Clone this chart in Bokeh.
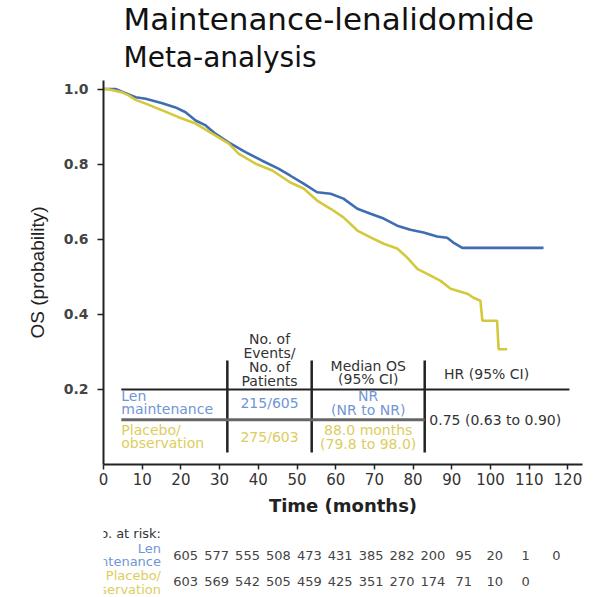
from bokeh.plotting import figure
from bokeh.models import Range1d, FixedTicker, PrintfTickFormatter, Title
from bokeh.layouts import column
from bokeh.embed import file_html
from bokeh.resources import INLINE
from bokeh.core.properties import value

# ---------------- data ----------------
len_t = [0, 1.0, 3.1, 5.7, 8.3, 10.9, 15.2, 18.6, 21.2, 23.8, 26.4, 28.9, 32.3, 36.7, 41.0, 45.2,
         48.3, 51.7, 55.2, 58.7, 62.0, 65.6, 69.0, 72.4, 75.9, 79.3, 82.7, 86.2, 88.8, 90.4, 92.7, 113.7]
len_s = [1.0, 1.0, 1.0, 0.989, 0.978, 0.974, 0.962, 0.951, 0.938, 0.916, 0.903, 0.881, 0.858, 0.832,
         0.809, 0.788, 0.769, 0.748, 0.725, 0.721, 0.708, 0.681, 0.668, 0.655, 0.636, 0.625, 0.618,
         0.607, 0.604, 0.591, 0.577, 0.577]

pla_t = [0, 1.0, 4.8, 6.5, 8.3, 10.9, 15.2, 19.4, 23.8, 28.1, 32.3, 34.9, 39.3, 43.6, 48.3, 51.7,
         55.2, 58.7, 62.0, 65.6, 69.0, 72.4, 75.9, 78.5, 81.1, 84.5, 87.1, 89.7, 94.0, 95.6, 97.4,
         97.9, 101.7, 102.1, 104.3]
pla_s = [1.0, 1.0, 0.991, 0.983, 0.971, 0.961, 0.943, 0.925, 0.908, 0.881, 0.855, 0.828, 0.801,
         0.783, 0.751, 0.735, 0.703, 0.681, 0.658, 0.623, 0.605, 0.588, 0.575, 0.551, 0.521, 0.503,
         0.489, 0.468, 0.455, 0.444, 0.436, 0.383, 0.383, 0.307, 0.307]

x_ticks = [0, 10, 20, 30, 40, 50, 60, 70, 80, 90, 100, 110, 120]
y_ticks = [0.2, 0.4, 0.6, 0.8, 1.0]

risk_times = [0, 10, 20, 30, 40, 50, 60, 70, 80, 90, 100, 110, 120]
risk_len = [605, 577, 555, 508, 473, 431, 385, 282, 200, 95, 20, 1, 0]
risk_pla = [603, 569, 542, 505, 459, 425, 351, 270, 174, 71, 10, 0]

group_lines = [["Len", "maintenance"], ["Placebo/", "observation"]]
events = ["215/605", "275/603"]
median_lines = [["NR", "(NR to NR)"], ["88.0 months", "(79.8 to 98.0)"]]
hr_text = "0.75 (0.63 to 0.90)"
head_events = ["No. of", "Events/", "No. of", "Patients"]
head_median = ["Median OS", "(95% CI)"]
head_hr = "HR (95% CI)"

title_main = "Maintenance-lenalidomide"
title_sub = "Meta-analysis"

# ---------------- styling / layout ----------------
BLUE = "#3f6db4"
YELLOW = "#d3c93c"
TXT_BLUE = "#6f96d6"
TXT_YEL = "#dccd5e"
DARK = "#222222"
GRAY = "#333333"
FONT = "DejaVu Sans"

PXM = 3.87                 # pixels per month
FL, FR = 103, 582          # frame left / right
FT, FB = 80, 464           # frame top / bottom
S1 = 88.5                  # pixel row of probability 1.0
PPU = FB - S1              # pixels per unit probability
H1, H2 = 520, 77

p = figure(width=600, height=H1, output_backend="svg", toolbar_location=None,
           x_range=Range1d(0, (FR - FL) / PXM), y_range=Range1d(0, (FB - FT) / PPU),
           min_border_left=FL, min_border_right=600 - FR, min_border_top=FT,
           min_border_bottom=H1 - FB)
p.grid.visible = False
p.outline_line_color = None
p.background_fill_color = "white"
p.border_fill_color = "white"

# y axis
ya = p.yaxis[0]
ya.ticker = FixedTicker(ticks=y_ticks)
ya.formatter = PrintfTickFormatter(format="%.1f")
ya.axis_line_color = DARK
ya.axis_line_width = 2
ya.major_tick_line_color = DARK
ya.major_tick_line_width = 1.5
ya.major_tick_out = 6
ya.major_tick_in = 0
ya.minor_tick_line_color = None
ya.major_label_text_font = FONT
ya.major_label_text_font_size = "14px"
ya.major_label_text_font_style = "bold"
ya.major_label_text_color = "#444444"
ya.major_label_standoff = 9
ya.axis_label = "OS (probability)"
ya.axis_label_text_font = "Liberation Sans"
ya.axis_label_text_font_size = "19px"
ya.axis_label_text_font_style = "normal"
ya.axis_label_text_color = DARK
ya.axis_label_standoff = 13

# x axis
xa = p.xaxis[0]
xa.ticker = FixedTicker(ticks=x_ticks)
xa.axis_line_color = DARK
xa.axis_line_width = 2
xa.major_tick_line_color = DARK
xa.major_tick_line_width = 1.5
xa.major_tick_out = 5
xa.major_tick_in = 0
xa.minor_tick_line_color = None
xa.major_label_text_font = FONT
xa.major_label_text_font_size = "15px"
xa.major_label_text_color = GRAY
xa.major_label_standoff = 3
xa.axis_label = "Time (months)"
xa.axis_label_text_font = FONT
xa.axis_label_text_font_size = "18px"
xa.axis_label_text_font_style = "bold"
xa.axis_label_text_color = DARK
xa.axis_label_standoff = 7

# titles (first added sits nearest the frame)
p.add_layout(Title(text=title_sub, align="left", offset=20, standoff=13,
                   text_font=FONT, text_font_size="28px", text_font_style="normal",
                   text_color="#111111"), "above")
p.add_layout(Title(text=title_main, align="left", offset=20, standoff=-9,
                   text_font=FONT, text_font_size="31px", text_font_style="normal",
                   text_color="#111111"), "above")

# curves
p.line(len_t, len_s, line_color=BLUE, line_width=2.6)
p.line(pla_t, pla_s, line_color=YELLOW, line_width=2.6)

# ---------------- inset table ----------------
C1, C2, C3 = 32.0, 53.8, 83.0
TL, TR = 4.6, 120.4
HEAD_Y, DIV_Y, TOP_Y, BOT_Y = 0.2, 0.119, 0.277, 0.032
ROW_Y = [0.1625, 0.072]
row_cols = [TXT_BLUE, TXT_YEL]

p.segment(x0=[C1, C2, C3], y0=[BOT_Y] * 3, x1=[C1, C2, C3], y1=[TOP_Y] * 3,
          line_color=DARK, line_width=2.5)
p.segment(x0=[TL], y0=[HEAD_Y], x1=[TR], y1=[HEAD_Y], line_color=DARK, line_width=2)
p.segment(x0=[TL], y0=[DIV_Y], x1=[C3], y1=[DIV_Y], line_color="#666666", line_width=3)


def tx(x, y, text, color, align="center", yoff=0, size="14px", style="normal"):
    p.text(x=x, y=y, text=text, text_color=color, text_font=value(FONT),
           text_font_size=size, text_align=align, text_baseline="middle",
           text_font_style=style, y_offset=yoff)


cx2 = (C1 + C2) / 2
cx3 = (C2 + C3) / 2
for txt, off in zip(head_events, [-50, -36, -22, -8]):
    tx([cx2], [HEAD_Y], [txt], GRAY, yoff=off)
for txt, off in zip(head_median, [-23, -10]):
    tx([cx3], [HEAD_Y], [txt], GRAY, yoff=off)
tx([99.0], [HEAD_Y], [head_hr], GRAY, yoff=-15)

for r in range(2):
    col = row_cols[r]
    tx([TL], [ROW_Y[r]], [group_lines[r][0]], col, align="left", yoff=-7)
    tx([TL], [ROW_Y[r]], [group_lines[r][1]], col, align="left", yoff=6)
    tx([cx2], [ROW_Y[r]], [events[r]], col)
    tx([cx3], [ROW_Y[r]], [median_lines[r][0]], col, yoff=-7)
    tx([cx3], [ROW_Y[r]], [median_lines[r][1]], col, yoff=7)
tx([C3 + 1.2], [DIV_Y], [hr_text], GRAY, align="left")

# ---------------- numbers at risk ----------------
ROW0, ROWH = 35, 26        # first row pixel offset, row spacing
q = figure(width=600, height=H2, output_backend="svg", toolbar_location=None,
           x_range=Range1d(-FL / PXM, (600 - FL) / PXM),
           y_range=Range1d(start=(H2 - ROW0) / ROWH, end=-ROW0 / ROWH),
           x_axis_type=None, y_axis_type=None,
           min_border_left=0, min_border_right=0, min_border_top=0, min_border_bottom=0)
q.grid.visible = False
q.outline_line_color = None
q.background_fill_color = "white"
q.border_fill_color = "white"

q.text(x=risk_times, y=[0] * len(risk_len), text=[str(v) for v in risk_len],
       text_color="#444444", text_font=value(FONT), text_font_size="13px",
       text_align="center", text_baseline="middle")
q.text(x=risk_times[:len(risk_pla)], y=[1] * len(risk_pla), text=[str(v) for v in risk_pla],
       text_color="#444444", text_font=value(FONT), text_font_size="13px",
       text_align="center", text_baseline="middle")

LAB_X = (72 - FL) / PXM
lab_text = ["No. at risk:", group_lines[0][0], group_lines[0][1],
            group_lines[1][0], group_lines[1][1]]
lab_row = [0, 0, 0, 1, 1]
lab_off = [-22, -7, 6, -6, 8]
lab_col = ["#333333", TXT_BLUE, TXT_BLUE, TXT_YEL, TXT_YEL]
for t_, r_, o_, c_ in zip(lab_text, lab_row, lab_off, lab_col):
    q.text(x=[LAB_X], y=[r_], text=[t_], text_color=c_, text_font=value(FONT),
           text_font_size="13px", text_align="right", text_baseline="middle", y_offset=o_)

layout = column(p, q)
open("out.html", "w").write(file_html(layout, INLINE))
